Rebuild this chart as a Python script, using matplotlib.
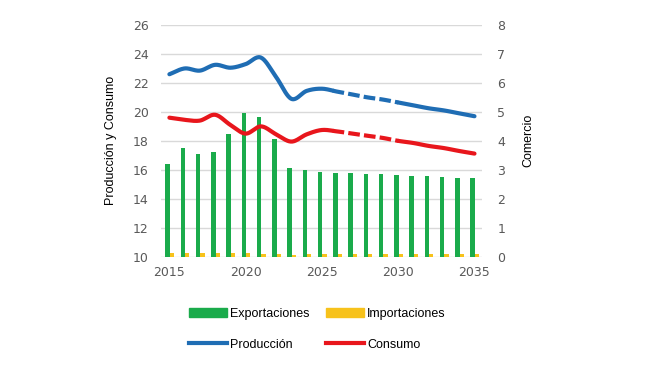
import numpy as np
import matplotlib
matplotlib.use('Agg')
import matplotlib.pyplot as plt
import matplotlib.patches as mpatches
from matplotlib.lines import Line2D

plt.rcParams['font.family'] = ['Liberation Sans', 'DejaVu Sans']

years = list(range(2015, 2036))
produccion = [22.6, 23.0, 22.85, 23.25, 23.05, 23.3, 23.75, 22.4, 20.9, 21.45, 21.6,
              21.4, 21.2, 21.0, 20.85, 20.65, 20.45, 20.25, 20.1, 19.9, 19.7]
consumo = [19.6, 19.45, 19.4, 19.8, 19.1, 18.5, 19.0, 18.45, 17.95, 18.45, 18.75,
           18.65, 18.5, 18.35, 18.2, 18.0, 17.85, 17.65, 17.5, 17.3, 17.12]
exportaciones = [3.2, 3.74, 3.54, 3.62, 4.23, 4.95, 4.82, 4.05, 3.08, 3.0, 2.91,
                 2.88, 2.88, 2.85, 2.84, 2.81, 2.80, 2.77, 2.75, 2.73, 2.72]
importaciones = [0.13, 0.14, 0.14, 0.13, 0.14, 0.14, 0.08, 0.1, 0.07, 0.08, 0.08,
                 0.08, 0.08, 0.08, 0.08, 0.08, 0.08, 0.08, 0.08, 0.08, 0.08]
x_ticks = [2015, 2020, 2025, 2030, 2035]
left_ticks = list(range(10, 27, 2))
right_ticks = list(range(0, 9))

VERDE = '#1aab4b'
AMARILLO = '#f7c21b'
AZUL = '#1f6db4'
ROJO = '#e8161c'
GRIS = '#595959'


def smooth(x, y, n=20):
    # catmull-rom, como el suavizado de Excel
    x = np.asarray(x, float)
    y = np.asarray(y, float)
    px = np.concatenate([[2 * x[0] - x[1]], x, [2 * x[-1] - x[-2]]])
    py = np.concatenate([[2 * y[0] - y[1]], y, [2 * y[-1] - y[-2]]])
    xs, ys = [], []
    t = np.linspace(0, 1, n, endpoint=False)
    for i in range(1, len(px) - 2):
        for p, out in ((px, xs), (py, ys)):
            p0, p1, p2, p3 = p[i - 1], p[i], p[i + 1], p[i + 2]
            out.extend(0.5 * (2 * p1 + (-p0 + p2) * t
                              + (2 * p0 - 5 * p1 + 4 * p2 - p3) * t ** 2
                              + (-p0 + 3 * p1 - 3 * p2 + p3) * t ** 3))
    xs.append(x[-1])
    ys.append(y[-1])
    return np.array(xs), np.array(ys)


def draw_line(ax, y, color):
    sx, sy = smooth(years, y)
    a = sx <= 2025.7
    b = (sx >= 2025.7) & (sx <= 2030)
    c = sx >= 2030
    ax.plot(sx[a], sy[a], color=color, lw=3, solid_capstyle='round')
    ax.plot(sx[b], sy[b], color=color, lw=3, dashes=(2.8, 1.0))
    ax.plot(sx[c], sy[c], color=color, lw=3, solid_capstyle='round')


fig = plt.figure(figsize=(6.5, 3.66), dpi=100)
ax1 = fig.add_axes([0.2477, 0.2986, 0.4940, 0.6331])
ax2 = ax1.twinx()
ax1.set_zorder(2)
ax2.set_zorder(1)
ax1.patch.set_visible(False)

yr = np.array(years)
ax2.bar(yr - 0.12, exportaciones, width=0.3, color=VERDE)
ax2.bar(yr + 0.17, importaciones, width=0.28, color=AMARILLO)

draw_line(ax1, produccion, AZUL)
draw_line(ax1, consumo, ROJO)

ax1.set_xlim(2014.45, 2035.5)
ax1.set_ylim(10, 26)
ax2.set_ylim(0, 8)
ax1.set_xticks(x_ticks)
ax1.set_yticks(left_ticks)
ax2.set_yticks(right_ticks)

ax2.yaxis.grid(True, color='#d9d9d9', lw=1)
ax2.set_axisbelow(True)
for ax in (ax1, ax2):
    for s in ax.spines.values():
        s.set_visible(False)

ax1.tick_params(axis='y', length=0, pad=9, labelsize=9, labelcolor=GRIS)
ax1.tick_params(axis='x', length=0, pad=7, labelsize=9, labelcolor=GRIS)
ax2.tick_params(axis='y', length=0, pad=11, labelsize=9, labelcolor=GRIS)
for lab in ax1.get_xticklabels() + ax1.get_yticklabels() + ax2.get_yticklabels():
    lab.set_family('DejaVu Sans')

ax1.set_ylabel('Producción y Consumo', fontsize=9, labelpad=11)
ax2.set_ylabel('Comercio', fontsize=9, labelpad=12)

handles = [
    mpatches.Patch(color=VERDE, label='Exportaciones'),
    Line2D([], [], color=AZUL, lw=3, label='Producción'),
    mpatches.Patch(color=AMARILLO, label='Importaciones'),
    Line2D([], [], color=ROJO, lw=3, label='Consumo'),
]
fig.legend(handles=handles, ncol=2, loc='center', bbox_to_anchor=(0.4885, 0.1),
           frameon=False, fontsize=9, handlelength=3.0, handletextpad=0.3,
           labelspacing=1.5, columnspacing=1.3)

plt.savefig('out.png', dpi=100)
